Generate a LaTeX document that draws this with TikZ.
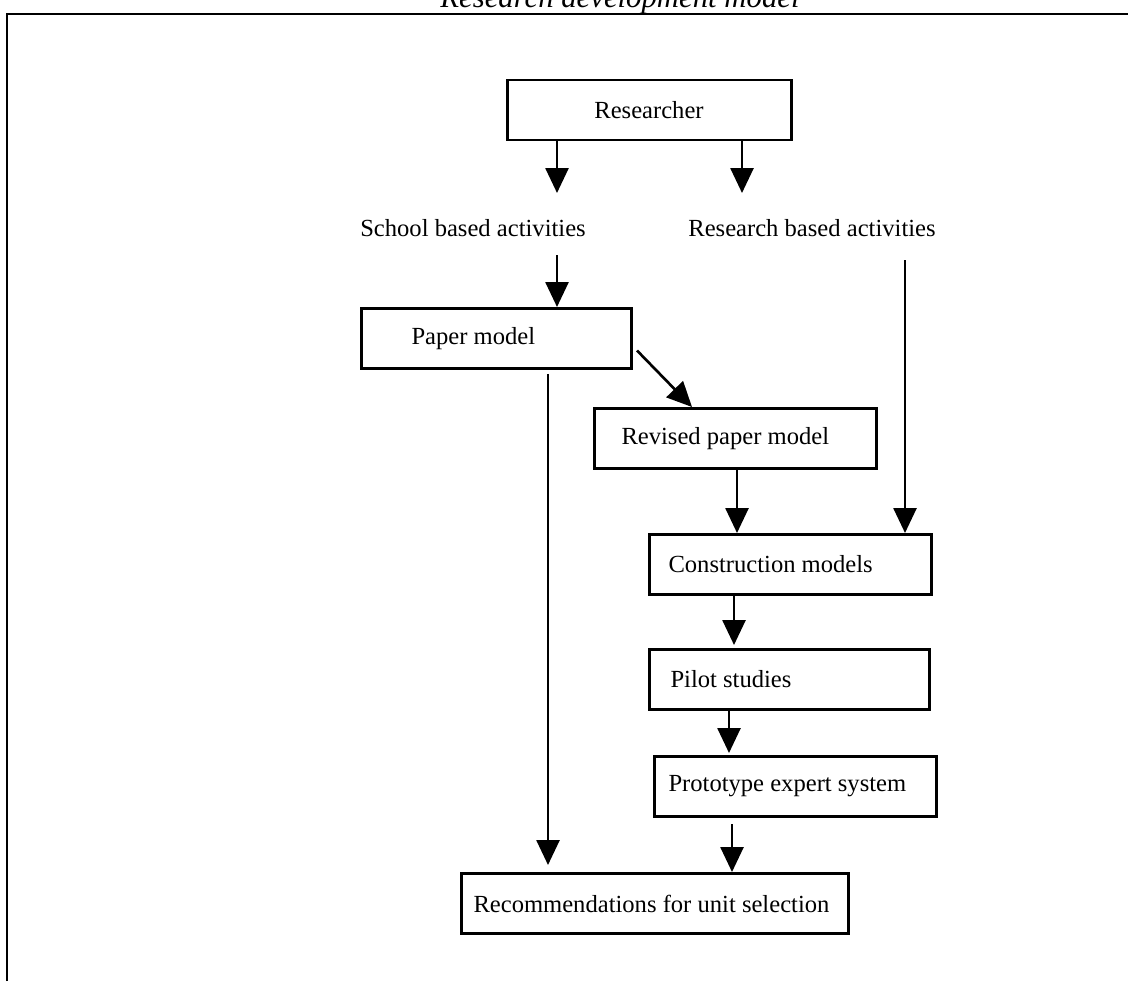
\documentclass[tikz,border=0pt]{standalone}
\usepackage{fontspec}
\setmainfont{Liberation Serif}
\usetikzlibrary{arrows.meta,positioning,calc}
\newlength\px
\setlength\px{0.02cm}

\tikzset{
  box/.style={draw,line width=1.7pt,rectangle,anchor=north west,align=flush left,
    minimum height=60\px,font=\fontsize{14}{16}\selectfont},
  lbl/.style={font=\fontsize{14}{16}\selectfont},
  arr/.style={line width=1.5pt,-{Triangle[length=0.5cm,width=0.46cm]}},
  ln/.style={line width=1.7pt}
}

\begin{document}
\begin{tikzpicture}[x=0.02cm,y=-0.02cm]
  \useasboundingbox (0,0) rectangle (1128,981);

  % title, cut at the top edge
  \begin{scope}
    \clip (0,0) rectangle (1128,981);
    \node[font=\fontsize{17.5}{19}\selectfont\itshape, anchor=base] (title) at (620,7) {Research development model};
  \end{scope}
  \draw[ln] (7,981) -- (7,14) -- (1128,14);

  \node[box, anchor=center, minimum width=284\px, align=center] (res) at (649,110) {Researcher};

  \node[lbl] (school) at (473,228) {School based activities};
  \node[lbl] (resact) at (812,228) {Research based activities};

  \node[box, text width=170\px, inner xsep=50\px] (paper) at (360,307) {Paper model};
  \node[box, text width=228\px, inner xsep=27\px] (revised) at (593,407) {Revised paper model};
  \node[box, text width=244\px, inner xsep=19\px] (constr) at (648,533) {Construction models};
  \node[box, text width=238\px, inner xsep=21\px] (pilot) at (648,648) {Pilot studies};
  \node[box, text width=254\px, inner xsep=14\px] (proto) at (653,755) {Prototype expert system};
  \node[box, text width=363\px, inner xsep=12\px] (recom) at (460,872) {Recommendations for unit selection};

  % free ends next to the two labels
  \coordinate (r1) at (557,193);
  \coordinate (r2) at (742,193);
  \coordinate (s1) at (557,255);
  \coordinate (s2) at (905,260);

  \draw[arr] (res.south -| r1) -- (r1);
  \draw[arr] (res.south -| r2) -- (r2);
  \draw[arr] (s1) -- (s1 |- paper.north);
  \draw[arr] (s2) -- (s2 |- constr.north);

  \draw[arr] ($(paper.east)+(4,12)$) -- ($(revised.north west)+(99,0)$);
  \draw[arr] ($(paper.south west)+(188,4)$) -- ($(recom.north west)+(88,-7)$);
  \draw[arr] ($(revised.south west)+(144,0)$) -- ($(constr.north west)+(89,0)$);
  \draw[arr] ($(constr.south west)+(86,0)$) -- ($(pilot.north west)+(86,-3)$);
  \draw[arr] ($(pilot.south west)+(81,0)$) -- ($(proto.north west)+(76,-2)$);
  \draw[arr] ($(proto.south west)+(79,6)$) -- ($(recom.north west)+(272,0)$);

\end{tikzpicture}
\end{document}
